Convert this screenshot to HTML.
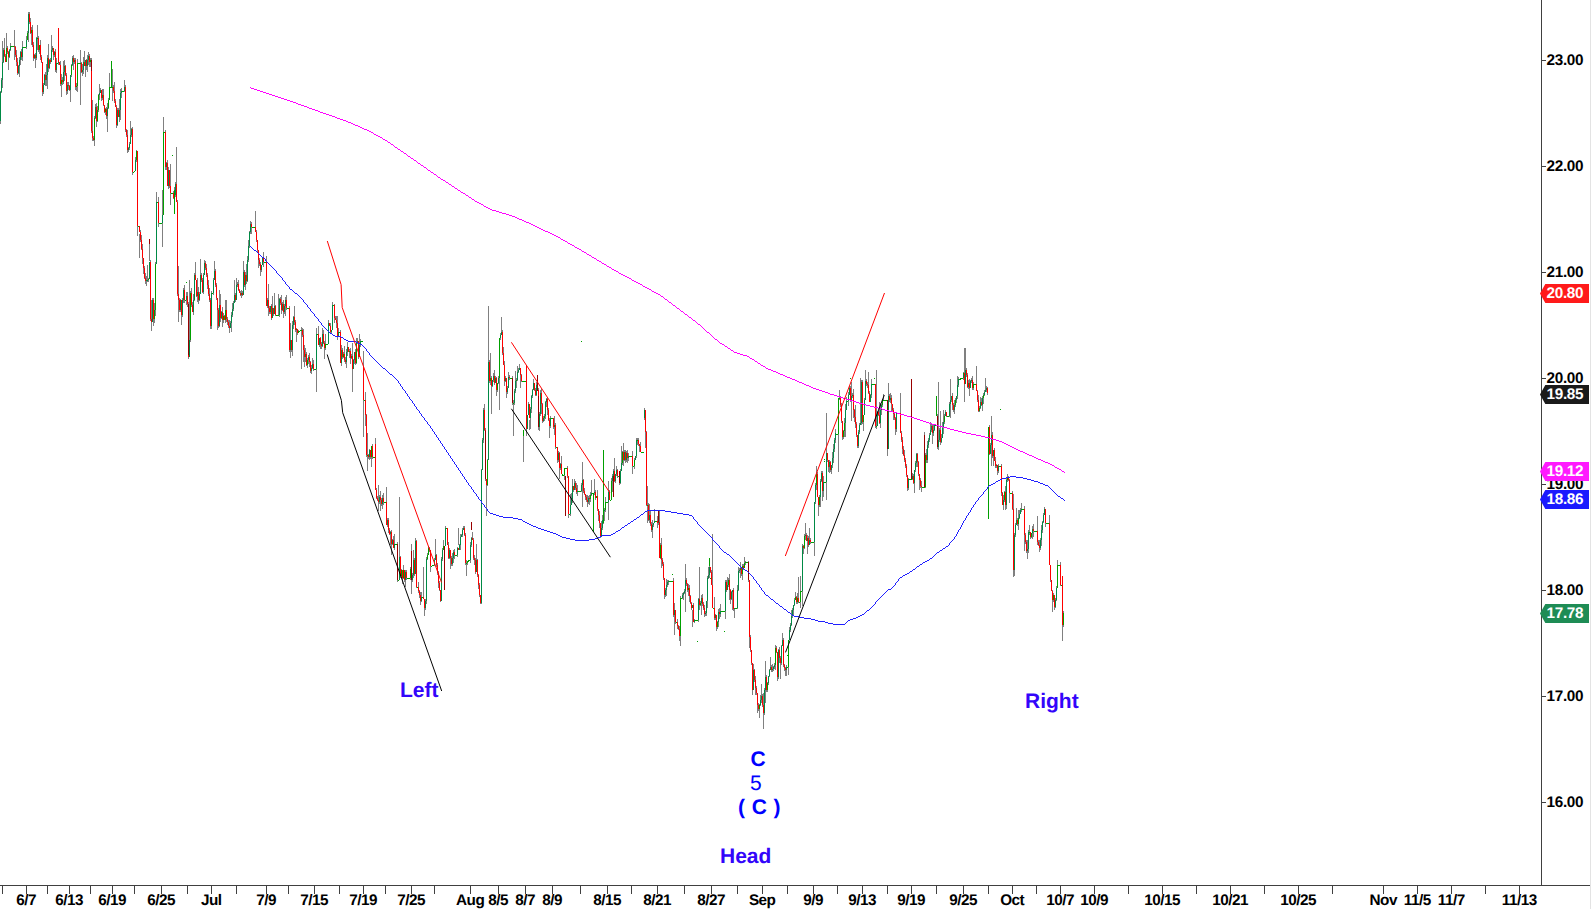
<!DOCTYPE html><html><head><meta charset="utf-8"><title>Chart</title><style>
html,body{margin:0;padding:0;background:#fff;}
body{width:1592px;height:909px;position:relative;overflow:hidden;font-family:"Liberation Sans",sans-serif;}
.t{position:absolute;white-space:nowrap;font-weight:bold;font-size:15.3px;line-height:16px;color:#000;letter-spacing:-0.3px;text-rendering:geometricPrecision;}
.xl{transform:translateX(-50%);top:892.5px;letter-spacing:-0.5px;}
.yl{left:1546.5px;}
.mk{left:1546.5px;color:#fff;}
.an{position:absolute;white-space:nowrap;font-weight:bold;font-size:21px;line-height:22px;color:#3305fa;text-rendering:geometricPrecision;}
.ew{color:#0000ff;}

</style></head><body>
<svg width="1592" height="909" viewBox="0 0 1592 909" style="position:absolute;left:0;top:0">
<g shape-rendering="crispEdges">
<path d="M0.5 91V124M1.5 78V93M2.5 62V80M2.5 41V88M3.5 48V63M4.5 38V57M5.5 54V62M6.5 48V62M6.5 33V55M7.5 46V54M8.5 51V70M9.5 49V58M10.5 43V51M14.5 46V47M14.5 30V60M15.5 46V57M16.5 50V66M17.5 58V75M18.5 65V74M19.5 57V77M20.5 51V65M21.5 49V60M22.5 41V61M26.5 36V49M27.5 31V40M28.5 14V33M28.5 12V42M29.5 12V24M30.5 18V34M31.5 27V45M32.5 25V47M33.5 42V61M34.5 54V59M35.5 53V68M36.5 37V60M37.5 25V50M38.5 36V52M39.5 45V54M40.5 40V60M41.5 55V63M42.5 62V92M42.5 70V96M43.5 83V94M44.5 74V85M45.5 72V86M46.5 64V86M47.5 55V89M48.5 44V72M49.5 59V69M50.5 58V64M51.5 50V62M51.5 35V62M52.5 46V52M53.5 48V60M54.5 51V57M55.5 49V72M56.5 58V73M58.5 60V65M59.5 62V65M60.5 61V86M61.5 74V97M62.5 77V85M63.5 61V84M64.5 60V81M65.5 65V76M66.5 73V95M67.5 82V94M68.5 82V90M69.5 85V91M70.5 75V90M70.5 75V102M71.5 64V77M72.5 56V66M73.5 58V62M73.5 55V70M74.5 58V64M75.5 58V90M76.5 83V91M77.5 59V92M80.5 50V105M81.5 62V73M82.5 64V76M83.5 57V74M84.5 51V66M85.5 60V77M86.5 59V70M87.5 55V72M88.5 52V65M89.5 54V67M90.5 58V67M91.5 58V133M92.5 131V138M92.5 100V141M93.5 136V141M94.5 116V146M95.5 104V119M96.5 103V127M97.5 106V122M98.5 94V112M99.5 93V95M99.5 84V100M100.5 88V93M101.5 90V101M102.5 89V100M103.5 89V106M104.5 105V113M105.5 108V115M106.5 107V119M107.5 103V132M108.5 98V109M109.5 87V100M109.5 73V90M112.5 69V101M113.5 85V93M114.5 82V103M115.5 99V107M116.5 107V125M116.5 105V128M117.5 108V126M118.5 108V117M119.5 99V122M120.5 89V120M121.5 88V98M124.5 87V91M124.5 80V92M125.5 85V132M126.5 129V137M127.5 135V150M127.5 130V153M128.5 147V152M129.5 142V150M130.5 135V144M130.5 121V140M131.5 128V137M132.5 127V175M135.5 157V171M136.5 150V162M137.5 151V226M137.5 189V236M139.5 226V232M139.5 234V258M140.5 230V242M141.5 235V250M142.5 244V264M143.5 258V274M144.5 266V279M145.5 273V284M146.5 276V286M147.5 265V282M148.5 278V282M149.5 262V279M149.5 244V261M150.5 260V321M151.5 319V322M151.5 300V331M152.5 298V322M153.5 298V326M154.5 303V323M155.5 262V316M156.5 202V264M156.5 192V210M158.5 197V227M162.5 215V223M162.5 190V247M163.5 132V215M163.5 117V135M165.5 130V170M166.5 162V170M167.5 160V186M168.5 167V189M169.5 170V188M170.5 164V205M173.5 191V199M174.5 187V199M175.5 182V197M176.5 184V202M176.5 147V190M177.5 200V296M178.5 294V300M178.5 266V322M179.5 298V312M180.5 299V312M181.5 300V315M181.5 300V325M182.5 298V317M183.5 288V303M184.5 285V303M186.5 292V305M187.5 292V307M188.5 302V359M189.5 340V357M189.5 280V340M190.5 291V342M191.5 288V307M192.5 302V312M193.5 294V315M194.5 273V301M195.5 275V280M195.5 262V280M196.5 280V297M197.5 278V302M198.5 287V304M199.5 292V301M200.5 275V294M200.5 259V280M201.5 273V282M202.5 278V293M203.5 273V294M204.5 263V275M204.5 260V270M205.5 261V270M206.5 264V277M207.5 273V289M208.5 280V296M209.5 288V302M210.5 298V329M211.5 291V329M213.5 278V295M214.5 271V280M214.5 261V275M215.5 269V287M216.5 283V300M217.5 298V310M217.5 300V330M218.5 308V328M219.5 290V327M220.5 294V322M221.5 311V319M222.5 307V327M223.5 313V323M224.5 315V320M225.5 300V323M226.5 300V322M227.5 317V325M228.5 320V328M229.5 326V328M229.5 320V333M230.5 321V328M231.5 312V332M232.5 303V317M233.5 301V311M234.5 295V303M234.5 280V300M235.5 293V302M236.5 285V300M236.5 278V290M237.5 282V287M238.5 280V291M239.5 289V293M240.5 291V296M241.5 290V298M242.5 291V296M243.5 272V295M243.5 261V275M244.5 270V287M245.5 272V290M246.5 264V284M247.5 256V282M248.5 240V262M249.5 231V248M250.5 221V234M251.5 222V234M255.5 227V232M255.5 211V230M256.5 230V242M257.5 240V252M258.5 250V268M259.5 258V266M260.5 264V270M260.5 262V276M261.5 265V272M262.5 257V265M263.5 252V267M266.5 262V306M266.5 256V265M267.5 298V308M268.5 300V308M268.5 284V316M269.5 306V314M270.5 306V314M271.5 304V320M272.5 308V318M272.5 296V310M273.5 308V316M274.5 306V314M274.5 293V310M275.5 305V316M278.5 294V315M279.5 298V317M280.5 297V305M281.5 295V314M282.5 302V311M283.5 304V312M283.5 300V318M284.5 304V314M285.5 297V316M286.5 295V310M289.5 306V352M290.5 340V350M290.5 323V358M291.5 340V352M292.5 321V356M293.5 316V329M294.5 306V325M295.5 320V332M296.5 329V330M296.5 328V342M297.5 329V335M298.5 330V333M301.5 327V369M302.5 328V337M303.5 329V362M304.5 345V367M305.5 348V362M306.5 352V366M307.5 358V368M308.5 355V364M309.5 353V367M310.5 361V373M311.5 365V374M312.5 358V369M313.5 360V371M316.5 334V369M316.5 328V392M318.5 334V345M318.5 326V340M319.5 338V347M320.5 337V349M321.5 342V349M322.5 328V347M323.5 330V344M324.5 341V359M325.5 334V350M328.5 323V344M328.5 320V330M329.5 323V326M330.5 323V333M331.5 330V334M332.5 305V330M332.5 302V310M334.5 304V323M335.5 316V320M336.5 316V328M337.5 316V340M338.5 328V337M340.5 330V363M341.5 345V366M342.5 348V359M343.5 352V358M344.5 346V362M345.5 357V364M346.5 349V368M347.5 342V356M348.5 347V352M349.5 349V358M350.5 348V364M351.5 354V359M352.5 356V369M352.5 343V392M353.5 359V369M354.5 352V364M355.5 349V365M356.5 338V364M357.5 338V344M358.5 341V359M359.5 345V357M359.5 334V346M360.5 339V347M363.5 366V400M363.5 351V437M365.5 400V415M365.5 392V426M366.5 414V457M367.5 433V471M368.5 454V459M369.5 449V460M370.5 450V459M371.5 446V457M371.5 446V467M372.5 444V459M375.5 444V490M375.5 438V450M376.5 488V499M377.5 496V501M378.5 500V502M378.5 485V511M379.5 495V504M380.5 497V500M380.5 491V511M381.5 498V506M382.5 495V509M383.5 493V505M386.5 498V525M386.5 487V500M387.5 518V527M388.5 518V533M389.5 528V535M390.5 531V545M391.5 530V555M392.5 539V545M393.5 536V548M394.5 534V550M397.5 542V582M399.5 557V580M399.5 497V560M400.5 556V578M401.5 569V578M402.5 570V584M403.5 565V579M404.5 570V582M405.5 572V580M405.5 570V587M406.5 570V580M410.5 567V580M411.5 569V580M411.5 544V594M412.5 573V582M413.5 550V578M414.5 558V576M415.5 541V574M415.5 538V545M416.5 540V588M418.5 582V593M419.5 590V598M420.5 592V605M421.5 592V602M423.5 584V599M423.5 567V590M424.5 599V608M424.5 600V616M425.5 599V610M426.5 557V604M427.5 553V560M428.5 548V555M428.5 546V550M429.5 547V552M430.5 550V566M430.5 560V572M434.5 558V566M435.5 555V560M435.5 539V560M436.5 554V567M437.5 563V575M438.5 571V588M439.5 581V591M440.5 590V601M440.5 590V602M441.5 557V601M442.5 548V561M443.5 546V550M443.5 540V550M445.5 528V546M445.5 526V530M447.5 528V545M448.5 542V559M449.5 548V559M450.5 550V558M450.5 555V569M451.5 556V566M452.5 553V566M453.5 550V563M454.5 549V559M457.5 547V557M458.5 548V550M458.5 528V545M459.5 544V550M460.5 534V550M461.5 534V537M462.5 528V537M463.5 528V530M463.5 526V530M464.5 526V536M465.5 533V565M466.5 560V576M467.5 561V565M470.5 542V563M471.5 537V547M472.5 538V540M472.5 532V540M473.5 538V560M474.5 555V565M475.5 558V574M476.5 560V572M476.5 544V560M477.5 559V577M478.5 574V589M479.5 583V597M480.5 595V603M480.5 600V604M481.5 469V604M482.5 438V470M483.5 408V443M484.5 404V431M485.5 428V481M486.5 479V485M486.5 480V516M487.5 459V486M488.5 362V460M488.5 306V362M489.5 360V383M490.5 378V381M490.5 353V385M491.5 378V386M491.5 376V414M492.5 380V387M493.5 373V382M494.5 370V385M495.5 376V383M496.5 377V396M497.5 383V392M498.5 376V384M499.5 338V379M499.5 379V410M500.5 333V340M501.5 332V335M501.5 317V335M502.5 330V355M503.5 347V365M504.5 361V386M505.5 376V382M506.5 378V392M506.5 380V398M507.5 386V394M508.5 377V388M508.5 372V380M509.5 375V380M512.5 376V405M513.5 400V436M514.5 389V405M515.5 371V393M516.5 378V388M517.5 366V381M518.5 368V373M519.5 368V370M519.5 364V370M520.5 368V375M520.5 375V388M521.5 374V382M523.5 436V462M526.5 381V429M526.5 420V436M527.5 415V429M528.5 402V415M529.5 404V418M529.5 420V430M530.5 407V429M531.5 395V413M532.5 389V398M533.5 383V390M533.5 379V385M534.5 383V391M535.5 388V396M536.5 382V396M537.5 382V390M538.5 388V430M539.5 412V431M540.5 390V416M541.5 389V414M542.5 403V423M543.5 416V422M544.5 414V421M545.5 401V419M546.5 398V407M547.5 397V415M548.5 408V421M549.5 418V438M550.5 416V428M553.5 418V429M554.5 425V427M554.5 416V435M555.5 423V449M557.5 447V460M557.5 450V463M558.5 451V462M559.5 452V479M560.5 463V470M561.5 464V474M561.5 456V470M564.5 468V480M567.5 466V478M568.5 476V514M568.5 500V518M570.5 494V516M571.5 493V505M572.5 479V503M573.5 486V492M574.5 483V490M574.5 479V490M575.5 481V490M576.5 483V494M577.5 485V496M581.5 483V492M582.5 480V485M582.5 462V507M583.5 479V493M584.5 488V495M585.5 494V500M586.5 495V502M587.5 500V502M587.5 495V507M588.5 496V504M589.5 495V505M590.5 492V502M591.5 480V496M594.5 492V493M594.5 479V495M595.5 490V500M596.5 496V498M597.5 490V511M598.5 509V521M599.5 511V528M600.5 523V538M601.5 521V537M602.5 515V530M603.5 510V524M604.5 508V521M605.5 497V512M608.5 492V502M608.5 481V520M609.5 490V500M611.5 478V500M612.5 474V492M613.5 469V478M614.5 458V482M615.5 474V483M616.5 470V474M616.5 466V476M617.5 469V478M619.5 476V483M619.5 480V485M620.5 469V484M621.5 463V471M621.5 446V465M622.5 451V465M623.5 443V466M624.5 450V461M625.5 452V460M625.5 450V463M626.5 451V462M627.5 450V463M628.5 453V461M632.5 452V466M632.5 451V474M634.5 458V469M635.5 456V460M636.5 438V458M637.5 438V445M638.5 438V446M639.5 444V452M640.5 442V452M644.5 408V420M645.5 410V432M645.5 431V448M646.5 431V506M647.5 486V523M648.5 503V521M649.5 504V523M650.5 510V526M651.5 522V532M652.5 525V530M652.5 520V538M653.5 523V527M654.5 509V523M657.5 516V528M658.5 520V525M659.5 522V558M659.5 510V536M660.5 543V559M661.5 545V560M661.5 538V568M662.5 558V566M663.5 562V580M664.5 578V595M664.5 580V599M665.5 588V597M666.5 579V596M667.5 580V587M668.5 580V585M673.5 578V617M674.5 610V615M674.5 603V635M675.5 610V624M677.5 619V629M678.5 625V630M679.5 626V641M680.5 596V646M682.5 593V599M683.5 592V600M684.5 589V594M685.5 580V591M685.5 564V612M686.5 578V586M687.5 583V592M688.5 584V596M689.5 585V602M690.5 595V604M691.5 602V610M692.5 605V608M692.5 610V627M693.5 603V622M694.5 619V623M698.5 598V622M699.5 599V605M699.5 567V610M700.5 601V606M701.5 595V615M702.5 594V606M703.5 602V610M704.5 608V614M704.5 605V617M705.5 611V616M706.5 601V616M707.5 576V608M708.5 567V579M709.5 565V578M710.5 567V573M711.5 570V585M712.5 577V608M712.5 534V580M714.5 597V620M715.5 614V620M716.5 615V627M716.5 620V631M717.5 621V629M718.5 609V627M719.5 608V619M720.5 604V617M725.5 580V619M726.5 580V592M727.5 585V590M727.5 577V590M728.5 578V587M729.5 574V600M730.5 589V604M731.5 591V600M732.5 590V592M732.5 590V610M733.5 588V611M734.5 608V618M737.5 585V609M738.5 567V591M739.5 568V573M740.5 568V570M740.5 562V578M741.5 568V576M742.5 564V580M743.5 564V570M744.5 563V568M744.5 557V565M745.5 561V565M748.5 561V582M749.5 580V637M749.5 630V648M750.5 635V652M751.5 650V665M752.5 663V690M752.5 680V695M753.5 670V690M753.5 664V680M754.5 669V682M755.5 676V695M756.5 686V695M757.5 693V705M757.5 700V713M758.5 703V711M759.5 704V718M760.5 695V706M761.5 684V703M762.5 694V707M763.5 697V713M763.5 693V729M764.5 688V715M765.5 677V690M765.5 661V703M766.5 675V692M767.5 682V692M768.5 676V685M769.5 669V677M770.5 667V670M770.5 657V670M771.5 665V672M772.5 664V672M773.5 666V671M774.5 663V669M775.5 648V670M775.5 645V670M776.5 646V653M777.5 652V677M777.5 668V681M778.5 649V679M779.5 647V663M780.5 656V679M781.5 645V665M782.5 640V646M782.5 633V645M783.5 638V667M784.5 664V671M785.5 667V676M786.5 665V676M788.5 640V667M788.5 640V675M789.5 630V640M789.5 627V635M790.5 623V632M791.5 610V626M792.5 608V618M793.5 605V616M794.5 598V606M795.5 597V600M795.5 592V600M796.5 596V604M797.5 593V604M798.5 577V603M800.5 576V608M802.5 544V606M803.5 545V554M804.5 534V549M805.5 535V536M805.5 523V540M806.5 533V541M807.5 538V541M807.5 535V554M808.5 536V547M809.5 540V545M809.5 528V545M810.5 538V544M814.5 502V556M814.5 502V556M815.5 483V504M816.5 474V485M816.5 466V490M817.5 472V497M818.5 497V505M818.5 497V516M819.5 495V507M820.5 479V507M821.5 471V482M822.5 471V501M823.5 476V497M826.5 453V484M826.5 413V500M827.5 453V462M828.5 460V472M829.5 460V473M830.5 461V472M831.5 465V474M832.5 452V468M833.5 444V463M834.5 438V452M835.5 429V443M838.5 398V447M838.5 406V472M839.5 390V400M840.5 396V407M841.5 403V423M842.5 421V437M842.5 430V440M843.5 430V439M844.5 418V437M845.5 404V437M846.5 397V410M848.5 392V406M849.5 386V395M850.5 386V402M851.5 396V401M851.5 382V421M852.5 393V398M853.5 389V418M854.5 409V422M855.5 405V428M856.5 422V437M857.5 435V446M857.5 440V448M858.5 430V448M859.5 423V434M860.5 423V425M860.5 378V425M861.5 380V425M862.5 380V424M863.5 415V422M863.5 415V431M864.5 398V415M865.5 381V400M865.5 370V385M866.5 379V386M867.5 382V388M868.5 372V394M869.5 391V402M870.5 394V402M871.5 379V398M875.5 384V428M876.5 370V429M877.5 411V426M878.5 411V416M879.5 402V424M880.5 403V428M881.5 404V415M882.5 399V407M883.5 394V400M887.5 400V449M887.5 440V456M888.5 396V449M888.5 383V400M889.5 394V402M890.5 393V403M891.5 395V412M892.5 404V412M893.5 408V420M894.5 412V420M895.5 417V435M896.5 413V432M900.5 413V433M900.5 393V413M901.5 431V442M902.5 437V454M903.5 446V456M904.5 450V462M905.5 458V468M906.5 464V477M907.5 475V488M907.5 480V491M908.5 478V490M912.5 473V480M913.5 474V484M914.5 470V483M914.5 480V493M915.5 461V472M916.5 453V467M917.5 453V467M918.5 461V476M919.5 474V480M919.5 475V490M920.5 478V488M921.5 481V492M924.5 432V440M925.5 453V488M926.5 449V463M927.5 441V463M928.5 438V448M929.5 433V442M930.5 430V435M930.5 422V430M931.5 424V432M932.5 425V444M933.5 425V436M934.5 425V431M937.5 414V449M938.5 440V447M938.5 382V450M939.5 428V442M940.5 411V445M941.5 434V443M942.5 422V438M943.5 410V434M944.5 414V424M945.5 412V416M945.5 410V416M946.5 412V417M949.5 402V417M950.5 400V404M950.5 379V418M951.5 396V402M952.5 393V410M953.5 403V412M954.5 405V410M954.5 400V414M955.5 398V407M956.5 396V403M957.5 376V399M958.5 377V387M963.5 372V380M964.5 367V384M964.5 348V402M965.5 370V384M965.5 348V375M966.5 368V377M967.5 373V388M968.5 380V389M969.5 379V396M970.5 380V388M971.5 378V383M972.5 380V388M972.5 376V390M973.5 382V390M976.5 375V391M976.5 366V380M977.5 390V402M978.5 395V411M978.5 400V412M979.5 406V412M980.5 397V409M981.5 398V406M982.5 396V411M983.5 393V404M984.5 390V396M985.5 390V392M985.5 378V392M986.5 386V392M987.5 387V395M989.5 425V455M990.5 443V454M991.5 435V445M991.5 416V466M992.5 432V458M993.5 450V456M993.5 450V466M994.5 448V461M995.5 457V468M996.5 464V468M997.5 465V471M997.5 465V475M998.5 464V473M1001.5 464V496M1002.5 492V505M1003.5 500V505M1003.5 495V510M1004.5 491V502M1005.5 486V510M1006.5 478V509M1007.5 478V480M1007.5 474V482M1008.5 476V481M1009.5 479V503M1012.5 491V510M1013.5 509V570M1013.5 494V577M1014.5 533V576M1015.5 523V537M1016.5 520V525M1016.5 508V525M1017.5 518V526M1018.5 510V530M1019.5 510V519M1020.5 508V514M1021.5 509V510M1021.5 503V512M1024.5 509V535M1024.5 506V551M1025.5 533V544M1026.5 540V553M1027.5 549V551M1027.5 540V559M1028.5 530V553M1029.5 525V535M1030.5 532V539M1031.5 533V538M1032.5 526V539M1033.5 524V537M1037.5 525V542M1037.5 516V545M1038.5 540V546M1039.5 545V548M1039.5 540V552M1040.5 538V550M1041.5 525V546M1042.5 521V533M1043.5 513V523M1044.5 509V515M1044.5 507V512M1045.5 509V523M1045.5 509V527M1049.5 523V565M1049.5 515V530M1050.5 565V582M1051.5 580V591M1052.5 591V600M1052.5 590V612M1053.5 593V602M1054.5 595V607M1054.5 600V610M1055.5 598V608M1056.5 586V601M1057.5 560V588M1060.5 562V586M1062.5 576V625M1062.5 576V641M1063.5 611V627" stroke="#808080" stroke-width="1" fill="none"/>
<path d="M4.5 50V56M5.5 56V62M7.5 48V52M8.5 52V57M14.5 46V47M15.5 47V55M16.5 55V62M17.5 62V73M21.5 52V57M29.5 14V22M30.5 22V33M32.5 30V45M33.5 45V58M35.5 55V58M38.5 38V50M40.5 45V57M41.5 57V62M42.5 62V92M45.5 75V80M48.5 58V68M50.5 60V62M53.5 48V55M55.5 52V70M59.5 62V65M60.5 65V84M62.5 80V82M65.5 66V75M66.5 75V91M68.5 85V86M69.5 86V90M73.5 58V62M75.5 60V87M81.5 63V72M84.5 62V66M86.5 60V66M89.5 56V62M91.5 60V131M92.5 131V138M93.5 138V140M96.5 107V121M101.5 90V98M103.5 95V105M104.5 105V112M106.5 109V116M113.5 87V91M114.5 91V101M115.5 101V107M116.5 107V125M118.5 110V117M125.5 87V130M126.5 130V135M127.5 135V150M132.5 129V172M137.5 151V226M139.5 226V232M140.5 232V240M141.5 240V249M142.5 249V258M143.5 258V268M144.5 268V278M145.5 278V281M150.5 262V319M151.5 319V322M153.5 300V319M158.5 202V223M165.5 132V167M167.5 163V186M169.5 170V186M170.5 186V193M173.5 193V198M176.5 184V202M177.5 202V294M178.5 294V300M179.5 300V310M181.5 300V315M184.5 290V300M187.5 296V304M188.5 304V357M191.5 293V305M192.5 305V312M195.5 275V280M196.5 280V296M198.5 292V300M201.5 275V280M202.5 280V292M205.5 263V268M206.5 268V275M207.5 275V285M208.5 285V294M209.5 294V300M210.5 300V326M215.5 271V285M216.5 285V298M217.5 298V310M218.5 310V326M220.5 305V318M222.5 312V320M224.5 316V320M226.5 310V319M227.5 319V322M228.5 322V326M229.5 326V328M235.5 295V300M238.5 284V290M239.5 290V293M240.5 293V295M242.5 293V295M244.5 272V285M246.5 275V281M251.5 224V227M255.5 227V232M256.5 232V240M257.5 240V250M258.5 250V260M259.5 260V264M260.5 264V270M263.5 258V262M266.5 262V306M268.5 300V308M269.5 308V312M271.5 306V318M273.5 308V314M275.5 306V315M280.5 299V303M281.5 303V310M283.5 304V312M286.5 300V308M289.5 308V350M291.5 340V350M294.5 317V322M295.5 322V330M297.5 329V333M302.5 330V335M303.5 335V350M304.5 350V357M306.5 354V365M309.5 357V362M310.5 362V371M313.5 364V369M318.5 334V345M320.5 338V344M321.5 344V346M323.5 334V343M324.5 343V348M329.5 323V326M330.5 326V332M334.5 305V318M335.5 318V320M336.5 320V323M337.5 323V336M340.5 332V363M342.5 350V357M344.5 354V360M345.5 360V362M348.5 347V352M350.5 351V358M352.5 356V369M355.5 352V363M358.5 341V357M363.5 366V400M365.5 400V415M366.5 415V455M368.5 455V457M370.5 450V457M372.5 446V457M375.5 444V490M376.5 490V498M377.5 498V500M378.5 500V502M380.5 497V500M381.5 500V504M383.5 498V502M386.5 502V525M388.5 520V530M389.5 530V534M391.5 532V544M393.5 540V548M397.5 544V580M400.5 557V576M402.5 570V578M404.5 570V580M406.5 572V578M411.5 569V580M414.5 560V574M416.5 541V587M418.5 587V591M419.5 591V595M420.5 595V601M423.5 597V599M424.5 599V608M429.5 548V550M430.5 550V566M436.5 555V565M437.5 565V573M438.5 573V583M439.5 583V590M440.5 590V601M447.5 528V545M448.5 545V558M450.5 550V558M451.5 558V564M454.5 552V555M458.5 548V550M464.5 528V535M465.5 535V563M472.5 538V540M473.5 540V558M474.5 558V560M475.5 560V572M477.5 560V575M478.5 575V585M479.5 585V595M480.5 595V603M484.5 410V430M485.5 430V479M486.5 479V485M489.5 362V381M491.5 378V386M494.5 376V383M496.5 378V390M502.5 332V353M503.5 353V365M504.5 365V381M506.5 378V392M509.5 377V378M512.5 378V403M520.5 368V375M521.5 375V381M526.5 381V429M529.5 404V418M534.5 383V390M535.5 390V395M537.5 385V390M538.5 390V427M541.5 393V404M542.5 404V421M547.5 399V410M548.5 410V420M549.5 420V426M553.5 418V427M555.5 425V447M557.5 447V460M559.5 453V468M561.5 464V474M567.5 468V476M568.5 476V514M573.5 486V490M575.5 483V488M576.5 488V492M583.5 480V491M584.5 491V494M585.5 494V497M586.5 497V500M587.5 500V502M589.5 498V499M595.5 492V498M597.5 496V509M598.5 509V515M599.5 515V523M600.5 523V536M609.5 492V500M614.5 471V481M617.5 470V476M619.5 476V483M623.5 452V460M625.5 452V460M627.5 453V458M632.5 456V466M638.5 440V444M639.5 444V446M640.5 446V452M645.5 410V432M646.5 432V505M648.5 505V520M650.5 515V524M651.5 524V530M657.5 521V523M659.5 522V558M661.5 545V560M662.5 560V564M663.5 564V578M664.5 578V595M673.5 581V615M675.5 610V622M677.5 622V626M678.5 626V629M679.5 629V636M686.5 580V584M687.5 584V590M689.5 588V596M690.5 596V603M691.5 603V608M693.5 605V622M699.5 599V605M702.5 598V604M703.5 604V608M704.5 608V614M710.5 567V572M711.5 572V585M712.5 585V608M714.5 608V618M716.5 615V627M719.5 612V614M726.5 582V590M729.5 580V590M730.5 590V599M733.5 590V609M741.5 568V574M743.5 566V568M748.5 562V580M749.5 580V637M750.5 637V650M751.5 650V663M752.5 663V690M754.5 670V680M755.5 680V688M756.5 688V693M757.5 693V705M758.5 705V709M762.5 696V705M763.5 705V713M766.5 677V690M771.5 667V670M776.5 648V652M777.5 652V677M779.5 650V658M780.5 658V663M783.5 640V665M784.5 665V668M785.5 668V670M796.5 597V602M798.5 598V602M803.5 546V548M806.5 535V541M808.5 538V545M810.5 540V542M817.5 474V497M818.5 497V505M822.5 473V491M827.5 453V460M828.5 460V467M830.5 462V470M840.5 398V405M841.5 405V421M842.5 421V437M850.5 388V401M853.5 395V410M854.5 410V417M855.5 417V424M856.5 424V435M857.5 435V446M862.5 382V422M866.5 381V384M867.5 384V385M868.5 385V393M869.5 393V402M875.5 384V426M878.5 412V415M879.5 415V423M887.5 400V449M889.5 396V400M891.5 398V404M892.5 404V410M893.5 410V414M894.5 414V418M895.5 418V429M900.5 413V433M901.5 433V440M902.5 440V449M903.5 449V455M904.5 455V460M905.5 460V466M906.5 466V475M907.5 475V488M913.5 476V483M917.5 454V462M918.5 462V474M919.5 474V480M920.5 480V486M921.5 486V487M926.5 455V460M932.5 426V433M937.5 425V447M940.5 430V442M946.5 412V416M952.5 396V405M953.5 405V410M964.5 373V384M966.5 370V375M967.5 375V387M969.5 383V388M972.5 380V388M976.5 384V391M977.5 391V400M978.5 400V411M981.5 402V405M987.5 388V393M989.5 427V454M992.5 435V456M994.5 450V461M995.5 461V466M997.5 465V471M1001.5 466V493M1002.5 493V505M1005.5 492V505M1008.5 478V480M1009.5 480V493M1012.5 493V509M1013.5 509V570M1017.5 520V524M1024.5 509V535M1025.5 535V542M1026.5 542V551M1030.5 532V537M1033.5 529V531M1037.5 531V542M1038.5 542V545M1039.5 545V548M1045.5 509V523M1049.5 523V565M1050.5 565V580M1051.5 580V591M1052.5 591V600M1054.5 595V607M1060.5 565V585M1062.5 576V625M58.5 28V62M526.5 365V429" stroke="#ff0000" stroke-width="1" fill="none"/>
<path d="M0.5 92V121M1.5 80V92M2.5 62V80M3.5 50V62M9.5 50V57M10.5 46V50M18.5 66V73M19.5 60V66M20.5 52V60M22.5 47V57M26.5 40V47M28.5 14V33M34.5 55V58M36.5 38V58M43.5 85V92M44.5 75V85M46.5 75V80M47.5 58V75M49.5 60V68M51.5 50V62M52.5 48V50M54.5 52V55M56.5 63V70M58.5 62V63M63.5 72V82M64.5 66V72M67.5 85V91M70.5 75V90M72.5 58V65M74.5 60V62M82.5 70V72M83.5 62V70M85.5 60V66M87.5 60V66M88.5 56V60M95.5 107V118M99.5 93V95M100.5 90V93M102.5 95V98M107.5 108V116M117.5 110V125M119.5 110V117M120.5 93V110M121.5 91V93M124.5 87V91M128.5 148V150M129.5 144V148M130.5 135V144M131.5 129V135M135.5 160V171M146.5 280V281M147.5 280V281M149.5 262V279M152.5 300V322M156.5 202V264M162.5 215V223M166.5 163V167M168.5 170V186M175.5 184V195M180.5 300V310M182.5 300V315M183.5 290V300M186.5 296V300M189.5 340V357M193.5 300V312M194.5 275V300M197.5 292V296M199.5 294V300M200.5 275V294M203.5 275V292M204.5 263V275M211.5 293V326M213.5 280V293M214.5 271V280M219.5 305V326M221.5 312V318M230.5 323V328M231.5 315V323M232.5 309V315M233.5 303V309M234.5 295V303M236.5 285V300M237.5 284V285M241.5 293V295M243.5 272V295M245.5 275V285M247.5 260V281M248.5 246V260M249.5 232V246M250.5 224V232M261.5 265V270M262.5 258V265M267.5 300V306M270.5 306V312M272.5 308V318M274.5 306V314M279.5 299V315M282.5 304V310M284.5 306V312M285.5 300V306M290.5 340V350M292.5 325V350M293.5 317V325M296.5 329V330M305.5 354V357M308.5 357V360M311.5 368V371M312.5 364V368M316.5 334V369M319.5 338V345M322.5 334V346M328.5 323V344M331.5 330V332M332.5 305V330M338.5 332V336M341.5 350V363M346.5 352V362M347.5 347V352M351.5 356V358M353.5 360V369M354.5 352V360M357.5 341V343M359.5 345V357M360.5 341V345M369.5 450V457M379.5 497V502M382.5 498V504M387.5 520V525M390.5 532V534M392.5 540V544M394.5 544V548M399.5 557V580M405.5 572V580M412.5 575V580M413.5 560V575M415.5 541V574M421.5 597V601M425.5 601V608M426.5 559V601M434.5 560V565M435.5 555V560M441.5 559V601M442.5 550V559M445.5 528V546M449.5 550V558M452.5 558V564M453.5 552V558M457.5 548V555M459.5 545V550M460.5 537V545M461.5 535V537M462.5 530V535M463.5 528V530M470.5 545V560M471.5 538V545M476.5 560V572M481.5 470V603M482.5 440V470M483.5 410V440M488.5 362V460M492.5 380V386M493.5 376V380M495.5 378V383M498.5 378V383M500.5 335V338M501.5 332V335M505.5 378V381M507.5 388V392M508.5 377V388M514.5 391V403M515.5 381V391M517.5 372V380M518.5 370V372M519.5 368V370M527.5 415V429M528.5 404V415M530.5 409V418M531.5 396V409M532.5 390V396M533.5 383V390M536.5 385V395M539.5 414V427M540.5 393V414M543.5 418V421M545.5 402V416M546.5 399V402M550.5 418V426M554.5 425V427M558.5 453V460M560.5 464V468M570.5 505V514M571.5 499V505M572.5 486V499M574.5 483V490M577.5 491V492M581.5 485V491M582.5 480V485M588.5 498V502M591.5 493V495M594.5 492V493M601.5 528V536M602.5 520V528M603.5 511V520M604.5 510V511M608.5 492V502M612.5 476V481M613.5 471V476M615.5 474V481M616.5 470V474M620.5 471V483M621.5 463V471M624.5 452V460M626.5 453V460M628.5 456V458M635.5 456V460M636.5 440V456M644.5 410V418M649.5 515V520M652.5 525V530M653.5 523V525M654.5 521V523M658.5 522V523M665.5 590V595M666.5 585V590M667.5 582V585M668.5 581V582M674.5 610V615M682.5 595V598M683.5 593V595M684.5 591V593M685.5 580V591M692.5 605V608M694.5 620V622M698.5 599V620M701.5 598V603M705.5 613V614M706.5 601V613M707.5 578V601M708.5 575V578M709.5 567V575M715.5 615V618M718.5 612V622M720.5 611V614M725.5 582V611M727.5 585V590M731.5 592V599M732.5 590V592M734.5 608V609M737.5 590V608M738.5 571V590M739.5 570V571M740.5 568V570M753.5 670V690M760.5 700V705M761.5 696V700M764.5 690V713M765.5 677V690M768.5 676V683M769.5 670V676M770.5 667V670M772.5 669V670M773.5 667V669M774.5 665V667M778.5 650V677M781.5 646V663M782.5 640V646M786.5 667V670M789.5 630V640M790.5 625V630M791.5 616V625M792.5 610V616M793.5 605V610M794.5 600V605M802.5 546V591M805.5 535V536M807.5 538V541M809.5 540V545M814.5 502V542M815.5 485V502M820.5 481V497M821.5 473V481M823.5 482V491M826.5 453V482M829.5 462V467M831.5 465V470M832.5 458V465M833.5 449V458M834.5 440V449M835.5 433V440M845.5 410V423M846.5 401V410M848.5 395V401M849.5 388V395M851.5 396V401M852.5 395V396M858.5 432V446M859.5 425V432M860.5 423V425M861.5 382V423M864.5 400V415M865.5 381V400M870.5 395V402M871.5 384V395M877.5 412V426M880.5 410V423M881.5 405V410M888.5 396V449M890.5 398V400M896.5 413V429M908.5 479V488M912.5 476V479M914.5 470V483M915.5 463V470M916.5 454V463M927.5 445V460M928.5 440V445M929.5 435V440M930.5 430V435M931.5 426V430M933.5 430V433M934.5 425V430M938.5 440V447M939.5 430V440M941.5 438V442M942.5 428V438M943.5 422V428M945.5 412V416M949.5 404V416M950.5 400V404M951.5 396V400M954.5 405V410M956.5 396V400M957.5 385V396M958.5 379V385M963.5 373V378M965.5 370V384M968.5 383V387M970.5 381V388M971.5 380V381M980.5 402V408M982.5 398V405M984.5 392V395M985.5 390V392M986.5 388V390M990.5 445V454M991.5 435V445M993.5 450V456M996.5 465V466M998.5 466V471M1003.5 500V505M1006.5 480V505M1014.5 535V570M1015.5 525V535M1016.5 520V525M1019.5 514V518M1020.5 510V514M1021.5 509V510M1027.5 549V551M1028.5 532V549M1032.5 529V533M1040.5 540V548M1041.5 530V540M1042.5 522V530M1043.5 515V522M1044.5 509V515M1055.5 600V607M1056.5 588V600" stroke="#008a45" stroke-width="1" fill="none"/>
<path d="M6.5 48V62M11.5 46V47M12.5 46V47M13.5 46V47M23.5 47V48M24.5 47V48M25.5 47V48M27.5 33V40M31.5 30V33M37.5 38V39M39.5 45V50M57.5 63V64M61.5 80V84M71.5 65V75M76.5 86V87M77.5 63V86M78.5 63V64M79.5 63V64M80.5 63V64M90.5 60V62M94.5 118V140M97.5 110V121M98.5 95V110M105.5 109V112M108.5 100V108M109.5 87V100M110.5 87V88M111.5 87V88M112.5 87V88M122.5 91V92M123.5 91V92M133.5 172V173M134.5 171V172M136.5 151V160M138.5 226V227M148.5 279V280M154.5 310V319M155.5 264V310M157.5 202V203M159.5 223V224M160.5 223V224M161.5 223V224M163.5 132V215M164.5 132V133M171.5 193V194M172.5 193V194M174.5 195V198M185.5 300V301M190.5 293V340M212.5 293V294M223.5 316V320M225.5 310V320M252.5 227V228M253.5 227V228M254.5 227V228M264.5 262V263M265.5 262V263M276.5 315V316M277.5 315V316M278.5 315V316M287.5 308V309M288.5 308V309M298.5 331V333M299.5 331V332M300.5 330V331M301.5 330V331M307.5 360V365M314.5 369V370M315.5 369V370M317.5 334V335M325.5 344V348M326.5 344V345M327.5 344V345M333.5 305V306M339.5 332V333M343.5 354V357M349.5 351V352M356.5 343V363M361.5 341V342M362.5 341V342M364.5 400V401M367.5 455V456M371.5 446V457M373.5 457V458M374.5 457V458M384.5 502V503M385.5 502V503M395.5 544V545M396.5 544V545M398.5 580V581M401.5 570V576M403.5 570V578M407.5 578V579M408.5 578V579M409.5 578V579M410.5 569V578M417.5 587V588M422.5 597V598M427.5 555V559M428.5 548V555M431.5 566V567M432.5 565V566M433.5 565V566M443.5 546V550M444.5 546V547M446.5 528V529M455.5 555V556M456.5 555V556M466.5 563V564M467.5 561V563M468.5 560V562M469.5 560V561M487.5 460V485M490.5 378V381M497.5 383V390M499.5 338V378M510.5 378V379M511.5 378V379M513.5 403V404M516.5 380V381M522.5 381V382M523.5 381V382M524.5 381V382M525.5 381V382M544.5 416V418M551.5 418V419M552.5 418V419M556.5 447V448M562.5 474V476M563.5 475V476M564.5 468V475M565.5 468V469M566.5 468V469M569.5 514V515M578.5 491V492M579.5 491V492M580.5 491V492M590.5 495V499M592.5 493V494M593.5 493V494M596.5 496V498M605.5 502V510M606.5 502V503M607.5 502V503M610.5 500V501M611.5 481V500M618.5 476V477M622.5 452V463M629.5 456V457M630.5 456V457M631.5 456V457M633.5 466V467M634.5 460V466M637.5 440V441M641.5 452V453M642.5 452V453M643.5 452V453M647.5 505V506M655.5 521V522M656.5 521V522M660.5 545V558M669.5 581V582M670.5 581V582M671.5 581V582M672.5 581V582M676.5 622V623M680.5 598V636M681.5 598V599M688.5 588V590M695.5 620V621M696.5 620V621M697.5 620V621M700.5 603V605M713.5 608V609M717.5 622V627M721.5 611V612M722.5 611V612M723.5 611V612M724.5 611V612M728.5 580V585M735.5 608V609M736.5 608V609M742.5 566V574M744.5 563V568M745.5 562V563M746.5 562V563M747.5 562V563M759.5 705V709M767.5 683V690M775.5 648V665M787.5 667V668M788.5 640V667M795.5 597V600M797.5 598V602M799.5 602V603M800.5 591V602M801.5 591V592M804.5 536V548M811.5 542V543M812.5 542V543M813.5 542V543M816.5 474V485M819.5 497V505M824.5 482V483M825.5 482V483M836.5 434V435M837.5 434V435M838.5 398V434M839.5 398V399M843.5 431V437M844.5 423V431M847.5 401V402M863.5 415V422M872.5 384V385M873.5 384V385M874.5 384V385M876.5 426V427M882.5 400V405M883.5 400V401M884.5 400V401M885.5 400V401M886.5 400V401M897.5 413V414M898.5 413V414M899.5 413V414M909.5 479V480M910.5 479V480M911.5 479V480M922.5 487V488M923.5 487V488M924.5 487V488M925.5 455V487M935.5 425V426M936.5 425V426M944.5 416V422M947.5 416V417M948.5 416V417M955.5 400V405M959.5 379V380M960.5 378V380M961.5 378V379M962.5 378V379M973.5 384V388M974.5 384V385M975.5 384V385M979.5 408V411M983.5 395V398M988.5 427V428M999.5 466V467M1000.5 466V467M1004.5 492V500M1007.5 478V480M1010.5 493V494M1011.5 493V494M1018.5 518V524M1022.5 509V510M1023.5 509V510M1029.5 532V533M1031.5 533V537M1034.5 531V532M1035.5 531V532M1036.5 531V532M1046.5 523V524M1047.5 523V524M1048.5 523V524M1053.5 595V600M1057.5 565V588M1058.5 565V566M1059.5 565V566M1061.5 585V586M1063.5 613V625M111.5 61V87M174.5 190V214M593.5 493V532M603.5 450V523M936.5 396V416M988.5 427V519M523.5 430V436M709.5 558V566M1000.5 409V410M172.5 155V156M186.5 282V283M581.5 341V342M672.5 574V575M697.5 641V642M710.5 578V579M724.5 631V632M850.5 378V379M874.5 378V379M963.5 373V374M824.5 459V460M824.5 461V462M787.5 655V656" stroke="#00a000" stroke-width="1" fill="none"/>
<path d="M149.5 239V244M411.5 551V580M444.5 546V590M471.5 522V530M537.5 375V391M565.5 476V516M613.5 476V497M619.5 471V483M658.5 510V522M911.5 379V479M924.5 435V487M397.5 544V580M512.5 378V403M748.5 562V580M887.5 400V449M937.5 416V447M188.5 304V355M91.5 60V71M538.5 396V427M485.5 431V479" stroke="#990000" stroke-width="1" fill="none"/>
</g>
<path d="M250.5 87V88M251.5 88V89M252.5 88V89M253.5 88V89M254.5 89V90M255.5 89V90M256.5 89V90M257.5 90V91M258.5 90V91M259.5 90V91M260.5 91V92M261.5 91V92M262.5 91V92M263.5 92V93M264.5 92V93M265.5 92V93M266.5 93V94M267.5 93V94M268.5 93V94M269.5 94V95M270.5 94V95M271.5 94V95M272.5 95V96M273.5 95V96M274.5 95V96M275.5 96V97M276.5 96V97M277.5 96V97M278.5 97V98M279.5 97V98M280.5 97V98M281.5 98V99M282.5 98V99M283.5 98V99M284.5 99V100M285.5 99V100M286.5 99V100M287.5 100V101M288.5 100V101M289.5 100V101M290.5 101V102M291.5 101V102M292.5 101V102M293.5 102V103M294.5 102V103M295.5 102V103M296.5 103V104M297.5 103V104M298.5 104V105M299.5 104V105M300.5 104V105M301.5 105V106M302.5 105V106M303.5 105V106M304.5 106V107M305.5 106V107M306.5 106V107M307.5 107V108M308.5 107V108M309.5 108V109M310.5 108V109M311.5 108V109M312.5 109V110M313.5 109V110M314.5 109V110M315.5 110V111M316.5 110V111M317.5 110V111M318.5 111V112M319.5 111V112M320.5 112V113M321.5 112V113M322.5 112V113M323.5 113V114M324.5 113V114M325.5 113V114M326.5 114V115M327.5 114V115M328.5 114V115M329.5 115V116M330.5 115V116M331.5 115V116M332.5 116V117M333.5 116V117M334.5 116V117M335.5 117V118M336.5 117V118M337.5 118V119M338.5 118V119M339.5 118V119M340.5 119V120M341.5 119V120M342.5 119V120M343.5 120V121M344.5 120V121M345.5 120V121M346.5 121V122M347.5 121V122M348.5 122V123M349.5 122V123M350.5 122V123M351.5 123V124M352.5 123V124M353.5 124V125M354.5 124V125M355.5 125V126M356.5 125V126M357.5 125V126M358.5 126V127M359.5 126V127M360.5 127V128M361.5 127V128M362.5 128V129M363.5 128V129M364.5 129V130M365.5 129V130M366.5 129V130M367.5 130V131M368.5 130V131M369.5 131V132M370.5 131V132M371.5 132V133M372.5 132V133M373.5 133V134M374.5 134V135M375.5 134V135M376.5 135V136M377.5 135V136M378.5 136V137M379.5 136V137M380.5 137V138M381.5 137V138M382.5 138V139M383.5 139V140M384.5 139V140M385.5 140V141M386.5 140V141M387.5 141V142M388.5 142V143M389.5 142V143M390.5 143V144M391.5 144V145M392.5 144V145M393.5 145V146M394.5 146V147M395.5 147V148M396.5 147V148M397.5 148V149M398.5 149V150M399.5 149V150M400.5 150V151M401.5 151V152M402.5 151V152M403.5 152V153M404.5 153V154M405.5 153V154M406.5 154V155M407.5 155V156M408.5 156V157M409.5 156V157M410.5 157V158M411.5 158V159M412.5 158V159M413.5 159V160M414.5 160V161M415.5 160V161M416.5 161V162M417.5 162V163M418.5 163V164M419.5 163V164M420.5 164V165M421.5 165V166M422.5 165V166M423.5 166V167M424.5 167V168M425.5 167V168M426.5 168V169M427.5 169V170M428.5 170V171M429.5 170V171M430.5 171V172M431.5 172V173M432.5 172V173M433.5 173V174M434.5 174V175M435.5 174V175M436.5 175V176M437.5 176V177M438.5 177V178M439.5 177V178M440.5 178V179M441.5 179V180M442.5 179V180M443.5 180V181M444.5 180V181M445.5 181V182M446.5 182V183M447.5 182V183M448.5 183V184M449.5 184V185M450.5 184V185M451.5 185V186M452.5 186V187M453.5 186V187M454.5 187V188M455.5 188V189M456.5 188V189M457.5 189V190M458.5 190V191M459.5 190V191M460.5 191V192M461.5 192V193M462.5 192V193M463.5 193V194M464.5 193V194M465.5 194V195M466.5 195V196M467.5 195V196M468.5 196V197M469.5 197V198M470.5 197V198M471.5 198V199M472.5 199V200M473.5 199V200M474.5 200V201M475.5 201V202M476.5 201V202M477.5 202V203M478.5 202V203M479.5 203V204M480.5 203V204M481.5 204V205M482.5 204V205M483.5 205V206M484.5 206V207M485.5 206V207M486.5 207V208M487.5 207V208M488.5 208V209M489.5 208V209M490.5 209V210M491.5 209V210M492.5 210V211M493.5 210V211M494.5 210V211M495.5 210V211M496.5 211V212M497.5 211V212M498.5 211V212M499.5 212V213M500.5 212V213M501.5 212V213M502.5 213V214M503.5 213V214M504.5 213V214M505.5 213V214M506.5 214V215M507.5 214V215M508.5 214V215M509.5 215V216M510.5 215V216M511.5 215V216M512.5 216V217M513.5 216V217M514.5 216V217M515.5 217V218M516.5 217V218M517.5 218V219M518.5 218V219M519.5 219V220M520.5 219V220M521.5 219V220M522.5 220V221M523.5 220V221M524.5 221V222M525.5 221V222M526.5 222V223M527.5 222V223M528.5 222V223M529.5 223V224M530.5 223V224M531.5 224V225M532.5 224V225M533.5 225V226M534.5 225V226M535.5 226V227M536.5 226V227M537.5 227V228M538.5 227V228M539.5 228V229M540.5 228V229M541.5 229V230M542.5 229V230M543.5 230V231M544.5 230V231M545.5 231V232M546.5 231V232M547.5 231V232M548.5 232V233M549.5 232V233M550.5 233V234M551.5 233V234M552.5 234V235M553.5 234V235M554.5 235V236M555.5 235V236M556.5 236V237M557.5 236V237M558.5 237V238M559.5 237V238M560.5 238V239M561.5 239V240M562.5 239V240M563.5 240V241M564.5 240V241M565.5 241V242M566.5 241V242M567.5 242V243M568.5 243V244M569.5 243V244M570.5 244V245M571.5 244V245M572.5 245V246M573.5 245V246M574.5 246V247M575.5 247V248M576.5 247V248M577.5 248V249M578.5 248V249M579.5 249V250M580.5 249V250M581.5 250V251M582.5 251V252M583.5 251V252M584.5 252V253M585.5 252V253M586.5 253V254M587.5 254V255M588.5 254V255M589.5 255V256M590.5 255V256M591.5 256V257M592.5 257V258M593.5 257V258M594.5 258V259M595.5 258V259M596.5 259V260M597.5 260V261M598.5 260V261M599.5 261V262M600.5 261V262M601.5 262V263M602.5 263V264M603.5 263V264M604.5 264V265M605.5 264V265M606.5 265V266M607.5 266V267M608.5 266V267M609.5 267V268M610.5 267V268M611.5 268V269M612.5 269V270M613.5 269V270M614.5 270V271M615.5 270V271M616.5 271V272M617.5 271V272M618.5 272V273M619.5 273V274M620.5 273V274M621.5 274V275M622.5 274V275M623.5 275V276M624.5 275V276M625.5 276V277M626.5 276V277M627.5 277V278M628.5 277V278M629.5 278V279M630.5 278V279M631.5 279V280M632.5 280V281M633.5 280V281M634.5 281V282M635.5 281V282M636.5 282V283M637.5 282V283M638.5 283V284M639.5 283V284M640.5 284V285M641.5 284V285M642.5 285V286M643.5 286V287M644.5 286V287M645.5 287V288M646.5 287V288M647.5 288V289M648.5 288V289M649.5 289V290M650.5 289V290M651.5 290V291M652.5 291V292M653.5 291V292M654.5 292V293M655.5 292V293M656.5 293V294M657.5 293V294M658.5 294V295M659.5 294V295M660.5 295V296M661.5 296V297M662.5 296V297M663.5 297V298M664.5 298V299M665.5 299V300M666.5 299V300M667.5 300V301M668.5 301V302M669.5 302V303M670.5 302V303M671.5 303V304M672.5 304V305M673.5 305V306M674.5 305V306M675.5 306V307M676.5 307V308M677.5 308V309M678.5 308V309M679.5 309V310M680.5 310V311M681.5 311V312M682.5 311V312M683.5 312V313M684.5 313V314M685.5 314V315M686.5 314V315M687.5 315V316M688.5 316V317M689.5 317V318M690.5 317V318M691.5 318V319M692.5 319V320M693.5 320V321M694.5 320V321M695.5 321V322M696.5 322V323M697.5 323V324M698.5 324V325M699.5 324V325M700.5 325V326M701.5 326V327M702.5 327V328M703.5 328V329M704.5 329V330M705.5 330V331M706.5 331V332M707.5 332V333M708.5 332V333M709.5 333V334M710.5 334V335M711.5 335V336M712.5 336V337M713.5 337V338M714.5 338V339M715.5 339V340M716.5 339V340M717.5 340V341M718.5 341V342M719.5 342V343M720.5 343V344M721.5 343V344M722.5 344V345M723.5 344V345M724.5 345V346M725.5 346V347M726.5 346V347M727.5 347V348M728.5 348V349M729.5 348V349M730.5 349V350M731.5 350V351M732.5 350V351M733.5 351V352M734.5 352V353M735.5 352V353M736.5 352V353M737.5 353V354M738.5 353V354M739.5 353V354M740.5 354V355M741.5 354V355M742.5 354V355M743.5 355V356M744.5 355V356M745.5 355V356M746.5 355V356M747.5 356V357M748.5 356V357M749.5 357V358M750.5 358V359M751.5 358V359M752.5 359V360M753.5 359V360M754.5 360V361M755.5 361V362M756.5 361V362M757.5 362V363M758.5 363V364M759.5 363V364M760.5 364V365M761.5 365V366M762.5 365V366M763.5 366V367M764.5 366V367M765.5 367V368M766.5 368V369M767.5 368V369M768.5 369V370M769.5 369V370M770.5 369V370M771.5 370V371M772.5 370V371M773.5 371V372M774.5 371V372M775.5 371V372M776.5 372V373M777.5 372V373M778.5 373V374M779.5 373V374M780.5 374V375M781.5 374V375M782.5 374V375M783.5 375V376M784.5 375V376M785.5 376V377M786.5 376V377M787.5 377V378M788.5 377V378M789.5 377V378M790.5 378V379M791.5 378V379M792.5 379V380M793.5 379V380M794.5 379V380M795.5 380V381M796.5 380V381M797.5 381V382M798.5 381V382M799.5 382V383M800.5 382V383M801.5 382V383M802.5 383V384M803.5 383V384M804.5 384V385M805.5 384V385M806.5 385V386M807.5 385V386M808.5 385V386M809.5 386V387M810.5 386V387M811.5 387V388M812.5 387V388M813.5 388V389M814.5 388V389M815.5 388V389M816.5 389V390M817.5 389V390M818.5 389V390M819.5 390V391M820.5 390V391M821.5 390V391M822.5 391V392M823.5 391V392M824.5 391V392M825.5 392V393M826.5 392V393M827.5 392V393M828.5 393V394M829.5 393V394M830.5 394V395M831.5 394V395M832.5 394V395M833.5 394V395M834.5 395V396M835.5 395V396M836.5 395V396M837.5 396V397M838.5 396V397M839.5 396V397M840.5 397V398M841.5 397V398M842.5 397V398M843.5 398V399M844.5 398V399M845.5 398V399M846.5 399V400M847.5 399V400M848.5 399V400M849.5 399V400M850.5 400V401M851.5 400V401M852.5 400V401M853.5 401V402M854.5 401V402M855.5 401V402M856.5 402V403M857.5 402V403M858.5 402V403M859.5 403V404M860.5 403V404M861.5 403V404M862.5 403V404M863.5 404V405M864.5 404V405M865.5 404V405M866.5 405V406M867.5 405V406M868.5 405V406M869.5 405V406M870.5 406V407M871.5 406V407M872.5 406V407M873.5 406V407M874.5 407V408M875.5 407V408M876.5 407V408M877.5 407V408M878.5 408V409M879.5 408V409M880.5 408V409M881.5 408V409M882.5 409V410M883.5 409V410M884.5 409V410M885.5 410V411M886.5 410V411M887.5 410V411M888.5 410V411M889.5 411V412M890.5 411V412M891.5 411V412M892.5 411V412M893.5 412V413M894.5 412V413M895.5 412V413M896.5 412V413M897.5 413V414M898.5 413V414M899.5 413V414M900.5 414V415M901.5 414V415M902.5 414V415M903.5 414V415M904.5 415V416M905.5 415V416M906.5 415V416M907.5 416V417M908.5 416V417M909.5 416V417M910.5 416V417M911.5 417V418M912.5 417V418M913.5 417V418M914.5 418V419M915.5 418V419M916.5 418V419M917.5 419V420M918.5 419V420M919.5 419V420M920.5 420V421M921.5 420V421M922.5 420V421M923.5 421V422M924.5 421V422M925.5 421V422M926.5 422V423M927.5 422V423M928.5 422V423M929.5 423V424M930.5 423V424M931.5 423V424M932.5 424V425M933.5 424V425M934.5 424V425M935.5 424V425M936.5 425V426M937.5 425V426M938.5 425V426M939.5 426V427M940.5 426V427M941.5 426V427M942.5 426V427M943.5 427V428M944.5 427V428M945.5 427V428M946.5 427V428M947.5 428V429M948.5 428V429M949.5 428V429M950.5 429V430M951.5 429V430M952.5 429V430M953.5 429V430M954.5 430V431M955.5 430V431M956.5 430V431M957.5 430V431M958.5 431V432M959.5 431V432M960.5 431V432M961.5 431V432M962.5 432V433M963.5 432V433M964.5 432V433M965.5 432V433M966.5 433V434M967.5 433V434M968.5 433V434M969.5 433V434M970.5 433V434M971.5 434V435M972.5 434V435M973.5 434V435M974.5 434V435M975.5 434V435M976.5 435V436M977.5 435V436M978.5 435V436M979.5 435V436M980.5 435V436M981.5 436V437M982.5 436V437M983.5 436V437M984.5 436V437M985.5 437V438M986.5 437V438M987.5 437V438M988.5 437V438M989.5 438V439M990.5 438V439M991.5 438V439M992.5 439V440M993.5 439V440M994.5 439V440M995.5 439V440M996.5 440V441M997.5 440V441M998.5 440V441M999.5 441V442M1000.5 441V442M1001.5 441V442M1002.5 442V443M1003.5 442V443M1004.5 443V444M1005.5 443V444M1006.5 444V445M1007.5 444V445M1008.5 445V446M1009.5 445V446M1010.5 446V447M1011.5 446V447M1012.5 447V448M1013.5 447V448M1014.5 448V449M1015.5 448V449M1016.5 449V450M1017.5 449V450M1018.5 450V451M1019.5 450V451M1020.5 451V452M1021.5 451V452M1022.5 451V452M1023.5 452V453M1024.5 452V453M1025.5 453V454M1026.5 453V454M1027.5 454V455M1028.5 454V455M1029.5 455V456M1030.5 455V456M1031.5 455V456M1032.5 456V457M1033.5 456V457M1034.5 457V458M1035.5 457V458M1036.5 458V459M1037.5 458V459M1038.5 459V460M1039.5 459V460M1040.5 459V460M1041.5 460V461M1042.5 460V461M1043.5 461V462M1044.5 461V462M1045.5 462V463M1046.5 462V463M1047.5 462V463M1048.5 463V464M1049.5 463V464M1050.5 464V465M1051.5 464V465M1052.5 465V466M1053.5 465V466M1054.5 466V467M1055.5 467V468M1056.5 467V468M1057.5 468V469M1058.5 468V469M1059.5 469V470M1060.5 469V470M1061.5 470V471M1062.5 471V472M1063.5 471V472M1064.5 472V473" stroke="#ff00ff" stroke-width="1" fill="none" shape-rendering="crispEdges"/>
<path d="M250.5 246V247M251.5 247V248M252.5 248V249M253.5 249V250M254.5 250V251M255.5 250V251M256.5 251V252M257.5 252V253M258.5 253V254M259.5 254V255M260.5 255V256M261.5 256V257M262.5 257V258M263.5 257V258M264.5 258V259M265.5 259V261M266.5 261V262M267.5 262V263M268.5 263V264M269.5 264V265M270.5 265V266M271.5 266V267M272.5 267V268M273.5 268V269M274.5 269V270M275.5 270V271M276.5 271V273M277.5 273V274M278.5 274V275M279.5 275V276M280.5 276V277M281.5 277V278M282.5 278V280M283.5 280V281M284.5 281V282M285.5 282V284M286.5 284V285M287.5 285V286M288.5 286V287M289.5 287V289M290.5 289V290M291.5 289V290M292.5 290V291M293.5 291V292M294.5 292V293M295.5 293V294M296.5 293V294M297.5 294V295M298.5 295V296M299.5 296V297M300.5 297V298M301.5 298V299M302.5 299V300M303.5 300V302M304.5 302V303M305.5 303V304M306.5 304V305M307.5 305V307M308.5 307V308M309.5 308V309M310.5 309V311M311.5 311V312M312.5 312V313M313.5 313V314M314.5 314V316M315.5 316V317M316.5 317V318M317.5 318V319M318.5 319V321M319.5 321V322M320.5 322V323M321.5 323V325M322.5 325V326M323.5 326V327M324.5 327V328M325.5 328V329M326.5 329V330M327.5 330V331M328.5 331V332M329.5 332V333M330.5 333V334M331.5 333V334M332.5 334V335M333.5 335V336M334.5 335V336M335.5 336V337M336.5 336V337M337.5 336V337M338.5 336V337M339.5 336V337M340.5 336V337M341.5 337V338M342.5 337V338M343.5 338V339M344.5 339V340M345.5 339V340M346.5 340V341M347.5 340V341M348.5 341V342M349.5 341V342M350.5 341V342M351.5 341V342M352.5 341V342M353.5 341V342M354.5 341V342M355.5 341V342M356.5 342V343M357.5 342V343M358.5 343V344M359.5 343V344M360.5 344V345M361.5 344V345M362.5 345V346M363.5 346V347M364.5 347V348M365.5 348V349M366.5 349V351M367.5 351V352M368.5 352V353M369.5 353V355M370.5 355V356M371.5 356V357M372.5 357V358M373.5 358V359M374.5 359V360M375.5 360V361M376.5 361V362M377.5 362V363M378.5 363V364M379.5 364V365M380.5 365V366M381.5 366V367M382.5 367V368M383.5 368V369M384.5 368V369M385.5 369V370M386.5 370V371M387.5 371V372M388.5 372V373M389.5 373V374M390.5 374V375M391.5 374V375M392.5 375V376M393.5 376V377M394.5 377V378M395.5 378V379M396.5 379V380M397.5 380V381M398.5 381V383M399.5 383V384M400.5 384V386M401.5 386V387M402.5 387V389M403.5 389V390M404.5 390V391M405.5 391V393M406.5 393V394M407.5 394V396M408.5 396V397M409.5 397V399M410.5 399V400M411.5 400V401M412.5 401V403M413.5 403V404M414.5 404V406M415.5 406V407M416.5 407V409M417.5 409V410M418.5 410V411M419.5 411V413M420.5 413V414M421.5 414V416M422.5 416V417M423.5 417V418M424.5 418V420M425.5 420V421M426.5 421V422M427.5 422V424M428.5 424V425M429.5 425V426M430.5 426V428M431.5 428V429M432.5 429V431M433.5 431V432M434.5 432V434M435.5 434V435M436.5 435V437M437.5 437V438M438.5 438V440M439.5 440V441M440.5 441V443M441.5 443V444M442.5 444V446M443.5 446V447M444.5 447V449M445.5 449V450M446.5 450V452M447.5 452V453M448.5 453V455M449.5 455V456M450.5 456V458M451.5 458V459M452.5 459V461M453.5 461V462M454.5 462V464M455.5 464V465M456.5 465V467M457.5 467V468M458.5 468V470M459.5 470V471M460.5 471V473M461.5 473V474M462.5 474V476M463.5 476V477M464.5 477V479M465.5 479V480M466.5 480V482M467.5 482V483M468.5 483V485M469.5 485V486M470.5 486V487M471.5 487V489M472.5 489V490M473.5 490V492M474.5 492V493M475.5 493V494M476.5 494V496M477.5 496V497M478.5 497V499M479.5 499V500M480.5 500V501M481.5 501V503M482.5 503V504M483.5 504V505M484.5 505V507M485.5 507V508M486.5 508V509M487.5 509V511M488.5 511V512M489.5 512V513M490.5 513V514M491.5 513V514M492.5 513V514M493.5 514V515M494.5 514V515M495.5 514V515M496.5 515V516M497.5 515V516M498.5 515V516M499.5 516V517M500.5 516V517M501.5 516V517M502.5 516V517M503.5 517V518M504.5 517V518M505.5 517V518M506.5 517V518M507.5 517V518M508.5 517V518M509.5 517V518M510.5 517V518M511.5 517V518M512.5 517V518M513.5 518V519M514.5 518V519M515.5 518V519M516.5 518V519M517.5 518V519M518.5 519V520M519.5 519V520M520.5 519V520M521.5 519V520M522.5 520V521M523.5 521V522M524.5 521V522M525.5 522V523M526.5 522V523M527.5 523V524M528.5 523V524M529.5 524V525M530.5 524V525M531.5 525V526M532.5 525V526M533.5 526V527M534.5 526V527M535.5 526V527M536.5 527V528M537.5 527V528M538.5 528V529M539.5 528V529M540.5 528V529M541.5 529V530M542.5 529V530M543.5 529V530M544.5 530V531M545.5 530V531M546.5 530V531M547.5 531V532M548.5 531V532M549.5 531V532M550.5 532V533M551.5 532V533M552.5 532V533M553.5 533V534M554.5 533V534M555.5 533V534M556.5 534V535M557.5 534V535M558.5 535V536M559.5 535V536M560.5 536V537M561.5 536V537M562.5 537V538M563.5 537V538M564.5 537V538M565.5 537V538M566.5 538V539M567.5 538V539M568.5 538V539M569.5 538V539M570.5 539V540M571.5 539V540M572.5 539V540M573.5 539V540M574.5 539V540M575.5 540V541M576.5 540V541M577.5 540V541M578.5 540V541M579.5 540V541M580.5 540V541M581.5 540V541M582.5 540V541M583.5 540V541M584.5 540V541M585.5 540V541M586.5 540V541M587.5 540V541M588.5 540V541M589.5 539V540M590.5 539V540M591.5 539V540M592.5 539V540M593.5 539V540M594.5 539V540M595.5 538V539M596.5 538V539M597.5 538V539M598.5 537V538M599.5 537V538M600.5 536V537M601.5 536V537M602.5 535V536M603.5 535V536M604.5 535V536M605.5 535V536M606.5 535V536M607.5 535V536M608.5 535V536M609.5 535V536M610.5 535V536M611.5 534V535M612.5 534V535M613.5 533V534M614.5 533V534M615.5 532V533M616.5 531V532M617.5 531V532M618.5 530V531M619.5 530V531M620.5 529V530M621.5 528V529M622.5 527V528M623.5 527V528M624.5 526V527M625.5 525V526M626.5 525V526M627.5 524V525M628.5 523V524M629.5 523V524M630.5 522V523M631.5 521V522M632.5 521V522M633.5 520V521M634.5 519V520M635.5 519V520M636.5 518V519M637.5 517V518M638.5 517V518M639.5 516V517M640.5 515V516M641.5 514V515M642.5 514V515M643.5 513V514M644.5 512V513M645.5 511V512M646.5 511V512M647.5 510V511M648.5 510V511M649.5 510V511M650.5 510V511M651.5 510V511M652.5 510V511M653.5 510V511M654.5 510V511M655.5 510V511M656.5 510V511M657.5 510V511M658.5 510V511M659.5 510V511M660.5 510V511M661.5 510V511M662.5 510V511M663.5 510V511M664.5 510V511M665.5 511V512M666.5 511V512M667.5 511V512M668.5 511V512M669.5 511V512M670.5 511V512M671.5 512V513M672.5 512V513M673.5 512V513M674.5 512V513M675.5 512V513M676.5 512V513M677.5 513V514M678.5 513V514M679.5 513V514M680.5 513V514M681.5 513V514M682.5 513V514M683.5 514V515M684.5 514V515M685.5 514V515M686.5 514V515M687.5 514V515M688.5 514V515M689.5 515V516M690.5 515V516M691.5 515V516M692.5 516V517M693.5 517V519M694.5 519V520M695.5 520V521M696.5 521V522M697.5 522V524M698.5 524V525M699.5 525V526M700.5 526V527M701.5 527V528M702.5 528V529M703.5 529V530M704.5 530V531M705.5 531V532M706.5 532V533M707.5 533V534M708.5 534V535M709.5 535V536M710.5 536V537M711.5 537V538M712.5 538V540M713.5 540V541M714.5 541V542M715.5 542V543M716.5 543V544M717.5 544V545M718.5 545V546M719.5 546V548M720.5 548V549M721.5 549V550M722.5 550V551M723.5 551V552M724.5 552V553M725.5 552V553M726.5 553V554M727.5 554V555M728.5 554V555M729.5 555V556M730.5 556V557M731.5 557V558M732.5 558V559M733.5 559V560M734.5 560V561M735.5 561V562M736.5 562V563M737.5 563V564M738.5 564V565M739.5 565V566M740.5 566V567M741.5 567V568M742.5 568V569M743.5 568V569M744.5 569V570M745.5 570V571M746.5 570V571M747.5 571V572M748.5 572V573M749.5 573V574M750.5 574V575M751.5 575V576M752.5 576V577M753.5 577V579M754.5 579V580M755.5 580V581M756.5 581V583M757.5 583V584M758.5 584V585M759.5 585V587M760.5 587V588M761.5 588V590M762.5 590V591M763.5 591V592M764.5 592V594M765.5 594V595M766.5 595V596M767.5 595V596M768.5 596V597M769.5 597V598M770.5 598V599M771.5 599V600M772.5 599V600M773.5 600V601M774.5 601V602M775.5 602V603M776.5 603V604M777.5 603V604M778.5 604V605M779.5 605V606M780.5 606V607M781.5 606V607M782.5 607V608M783.5 608V609M784.5 609V610M785.5 609V610M786.5 610V611M787.5 611V612M788.5 612V613M789.5 612V613M790.5 613V614M791.5 614V615M792.5 615V616M793.5 615V616M794.5 616V617M795.5 616V617M796.5 616V617M797.5 616V617M798.5 616V617M799.5 617V618M800.5 617V618M801.5 617V618M802.5 617V618M803.5 617V618M804.5 618V619M805.5 618V619M806.5 618V619M807.5 618V619M808.5 618V619M809.5 618V619M810.5 618V619M811.5 619V620M812.5 619V620M813.5 619V620M814.5 619V620M815.5 620V621M816.5 620V621M817.5 620V621M818.5 621V622M819.5 621V622M820.5 621V622M821.5 621V622M822.5 621V622M823.5 621V622M824.5 621V622M825.5 622V623M826.5 622V623M827.5 622V623M828.5 623V624M829.5 623V624M830.5 623V624M831.5 623V624M832.5 623V624M833.5 624V625M834.5 624V625M835.5 624V625M836.5 624V625M837.5 624V625M838.5 624V625M839.5 624V625M840.5 624V625M841.5 624V625M842.5 624V625M843.5 624V625M844.5 624V625M845.5 623V624M846.5 622V623M847.5 621V622M848.5 620V621M849.5 620V621M850.5 619V620M851.5 619V620M852.5 619V620M853.5 618V619M854.5 618V619M855.5 618V619M856.5 617V618M857.5 617V618M858.5 616V617M859.5 616V617M860.5 615V616M861.5 615V616M862.5 614V615M863.5 614V615M864.5 613V614M865.5 612V613M866.5 611V612M867.5 610V611M868.5 610V611M869.5 609V610M870.5 608V609M871.5 607V608M872.5 606V607M873.5 605V606M874.5 604V605M875.5 602V604M876.5 601V602M877.5 600V601M878.5 599V600M879.5 598V599M880.5 597V598M881.5 596V597M882.5 595V596M883.5 594V595M884.5 593V594M885.5 592V593M886.5 591V592M887.5 590V591M888.5 589V590M889.5 589V590M890.5 589V590M891.5 588V589M892.5 587V588M893.5 586V587M894.5 585V586M895.5 583V585M896.5 582V583M897.5 581V582M898.5 579V581M899.5 578V579M900.5 577V578M901.5 577V578M902.5 576V577M903.5 575V576M904.5 575V576M905.5 574V575M906.5 574V575M907.5 573V574M908.5 573V574M909.5 572V573M910.5 571V572M911.5 571V572M912.5 570V571M913.5 569V570M914.5 569V570M915.5 568V569M916.5 567V568M917.5 566V567M918.5 566V567M919.5 565V566M920.5 564V565M921.5 564V565M922.5 563V564M923.5 562V563M924.5 562V563M925.5 561V562M926.5 561V562M927.5 560V561M928.5 560V561M929.5 559V560M930.5 558V559M931.5 558V559M932.5 557V558M933.5 556V557M934.5 555V556M935.5 554V555M936.5 553V554M937.5 552V553M938.5 552V553M939.5 551V552M940.5 550V551M941.5 550V551M942.5 549V550M943.5 548V549M944.5 548V549M945.5 547V548M946.5 546V547M947.5 546V547M948.5 545V546M949.5 543V545M950.5 542V543M951.5 541V542M952.5 540V541M953.5 539V540M954.5 537V539M955.5 536V537M956.5 534V536M957.5 532V534M958.5 530V532M959.5 529V530M960.5 527V529M961.5 525V527M962.5 523V525M963.5 521V523M964.5 520V521M965.5 518V520M966.5 516V518M967.5 515V516M968.5 513V515M969.5 512V513M970.5 510V512M971.5 508V510M972.5 507V508M973.5 505V507M974.5 504V505M975.5 502V504M976.5 501V502M977.5 500V501M978.5 498V500M979.5 497V498M980.5 496V497M981.5 495V496M982.5 494V495M983.5 492V494M984.5 491V492M985.5 490V491M986.5 489V490M987.5 487V489M988.5 486V487M989.5 485V486M990.5 485V486M991.5 484V485M992.5 484V485M993.5 483V484M994.5 483V484M995.5 482V483M996.5 481V482M997.5 481V482M998.5 480V481M999.5 480V481M1000.5 479V480M1001.5 479V480M1002.5 478V479M1003.5 478V479M1004.5 478V479M1005.5 478V479M1006.5 477V478M1007.5 477V478M1008.5 477V478M1009.5 477V478M1010.5 476V477M1011.5 476V477M1012.5 476V477M1013.5 476V477M1014.5 476V477M1015.5 476V477M1016.5 477V478M1017.5 477V478M1018.5 477V478M1019.5 477V478M1020.5 477V478M1021.5 477V478M1022.5 477V478M1023.5 478V479M1024.5 478V479M1025.5 478V479M1026.5 478V479M1027.5 479V480M1028.5 479V480M1029.5 479V480M1030.5 479V480M1031.5 480V481M1032.5 480V481M1033.5 480V481M1034.5 481V482M1035.5 481V482M1036.5 481V482M1037.5 481V482M1038.5 482V483M1039.5 482V483M1040.5 483V484M1041.5 483V484M1042.5 483V484M1043.5 484V485M1044.5 484V485M1045.5 485V486M1046.5 485V486M1047.5 485V486M1048.5 486V487M1049.5 487V488M1050.5 488V489M1051.5 489V490M1052.5 490V491M1053.5 491V492M1054.5 492V493M1055.5 493V494M1056.5 494V495M1057.5 495V496M1058.5 496V497M1059.5 496V497M1060.5 497V498M1061.5 498V499M1062.5 498V499M1063.5 499V500M1064.5 500V501" stroke="#2020ff" stroke-width="1" fill="none" shape-rendering="crispEdges"/>
<polyline points="327.3,241.0 341.1,284.6 342.2,307.5 441.5,582.5" stroke="#ff0000" stroke-width="1.0" fill="none"/>
<polyline points="327.2,354.5 341.4,400.4 342.7,412.7 441.7,691.0" stroke="#000000" stroke-width="1.0" fill="none"/>
<polyline points="511.4,342.3 610.0,493.0" stroke="#ff0000" stroke-width="1.0" fill="none"/>
<polyline points="511.4,408.8 610.4,557.2" stroke="#000000" stroke-width="1.0" fill="none"/>
<polyline points="785.3,556.0 884.5,293.0" stroke="#ff0000" stroke-width="1.0" fill="none"/>
<polyline points="785.5,652.4 884.3,395.0" stroke="#000000" stroke-width="1.0" fill="none"/>
<g shape-rendering="crispEdges" fill="#404040">
<rect x="1541" y="0" width="1" height="885"/>
<rect x="0" y="885" width="1590" height="1"/>
<rect x="2" y="886" width="1" height="8"/>
<rect x="26" y="886" width="1" height="8"/>
<rect x="47" y="886" width="1" height="8"/>
<rect x="69" y="886" width="1" height="8"/>
<rect x="90" y="886" width="1" height="8"/>
<rect x="112" y="886" width="1" height="8"/>
<rect x="134" y="886" width="1" height="8"/>
<rect x="161" y="886" width="1" height="8"/>
<rect x="187" y="886" width="1" height="8"/>
<rect x="211" y="886" width="1" height="8"/>
<rect x="236" y="886" width="1" height="8"/>
<rect x="266" y="886" width="1" height="8"/>
<rect x="288" y="886" width="1" height="8"/>
<rect x="314" y="886" width="1" height="8"/>
<rect x="339" y="886" width="1" height="8"/>
<rect x="363" y="886" width="1" height="8"/>
<rect x="385" y="886" width="1" height="8"/>
<rect x="411" y="886" width="1" height="8"/>
<rect x="434" y="886" width="1" height="8"/>
<rect x="470" y="886" width="1" height="8"/>
<rect x="498" y="886" width="1" height="8"/>
<rect x="525" y="886" width="1" height="8"/>
<rect x="552" y="886" width="1" height="8"/>
<rect x="580" y="886" width="1" height="8"/>
<rect x="607" y="886" width="1" height="8"/>
<rect x="631" y="886" width="1" height="8"/>
<rect x="657" y="886" width="1" height="8"/>
<rect x="684" y="886" width="1" height="8"/>
<rect x="711" y="886" width="1" height="8"/>
<rect x="737" y="886" width="1" height="8"/>
<rect x="762" y="886" width="1" height="8"/>
<rect x="787" y="886" width="1" height="8"/>
<rect x="813" y="886" width="1" height="8"/>
<rect x="837" y="886" width="1" height="8"/>
<rect x="862" y="886" width="1" height="8"/>
<rect x="887" y="886" width="1" height="8"/>
<rect x="911" y="886" width="1" height="8"/>
<rect x="936" y="886" width="1" height="8"/>
<rect x="963" y="886" width="1" height="8"/>
<rect x="988" y="886" width="1" height="8"/>
<rect x="1012" y="886" width="1" height="8"/>
<rect x="1036" y="886" width="1" height="8"/>
<rect x="1060" y="886" width="1" height="8"/>
<rect x="1094" y="886" width="1" height="8"/>
<rect x="1128" y="886" width="1" height="8"/>
<rect x="1162" y="886" width="1" height="8"/>
<rect x="1196" y="886" width="1" height="8"/>
<rect x="1230" y="886" width="1" height="8"/>
<rect x="1264" y="886" width="1" height="8"/>
<rect x="1298" y="886" width="1" height="8"/>
<rect x="1332" y="886" width="1" height="8"/>
<rect x="1383" y="886" width="1" height="8"/>
<rect x="1417" y="886" width="1" height="8"/>
<rect x="1451" y="886" width="1" height="8"/>
<rect x="1485" y="886" width="1" height="8"/>
<rect x="1519" y="886" width="1" height="8"/>
<rect x="1542" y="60" width="4" height="1"/>
<rect x="1542" y="166" width="4" height="1"/>
<rect x="1542" y="272" width="4" height="1"/>
<rect x="1542" y="378" width="4" height="1"/>
<rect x="1542" y="484" width="4" height="1"/>
<rect x="1542" y="590" width="4" height="1"/>
<rect x="1542" y="696" width="4" height="1"/>
<rect x="1542" y="802" width="4" height="1"/>
<rect x="1590" y="0" width="1" height="909" fill="#e3e3e3"/>
</g>
</svg>
<div class="t xl" style="left:26.2px">6/7</div>
<div class="t xl" style="left:69.2px">6/13</div>
<div class="t xl" style="left:112.2px">6/19</div>
<div class="t xl" style="left:161.2px">6/25</div>
<div class="t xl" style="left:211.2px">Jul</div>
<div class="t xl" style="left:266.2px">7/9</div>
<div class="t xl" style="left:314.2px">7/15</div>
<div class="t xl" style="left:363.2px">7/19</div>
<div class="t xl" style="left:411.2px">7/25</div>
<div class="t xl" style="left:470.2px">Aug</div>
<div class="t xl" style="left:498.2px">8/5</div>
<div class="t xl" style="left:525.2px">8/7</div>
<div class="t xl" style="left:552.2px">8/9</div>
<div class="t xl" style="left:607.2px">8/15</div>
<div class="t xl" style="left:657.2px">8/21</div>
<div class="t xl" style="left:711.2px">8/27</div>
<div class="t xl" style="left:762.2px">Sep</div>
<div class="t xl" style="left:813.2px">9/9</div>
<div class="t xl" style="left:862.2px">9/13</div>
<div class="t xl" style="left:911.2px">9/19</div>
<div class="t xl" style="left:963.2px">9/25</div>
<div class="t xl" style="left:1012.2px">Oct</div>
<div class="t xl" style="left:1060.2px">10/7</div>
<div class="t xl" style="left:1094.2px">10/9</div>
<div class="t xl" style="left:1162.2px">10/15</div>
<div class="t xl" style="left:1230.2px">10/21</div>
<div class="t xl" style="left:1298.2px">10/25</div>
<div class="t xl" style="left:1383.2px">Nov</div>
<div class="t xl" style="left:1417.2px">11/5</div>
<div class="t xl" style="left:1451.2px">11/7</div>
<div class="t xl" style="left:1519.2px">11/13</div>
<div class="t yl" style="top:52.5px">23.00</div>
<div class="t yl" style="top:158.5px">22.00</div>
<div class="t yl" style="top:264.5px">21.00</div>
<div class="t yl" style="top:370.5px">20.00</div>
<div class="t yl" style="top:476.5px">19.00</div>
<div class="t yl" style="top:582.5px">18.00</div>
<div class="t yl" style="top:688.5px">17.00</div>
<div class="t yl" style="top:794.5px">16.00</div>
<svg width="1592" height="909" viewBox="0 0 1592 909" style="position:absolute;left:0;top:0">
<polygon points="1540,293.5 1545.3,284 1589,284 1589,303 1545.3,303" fill="#ff1a1a"/>
<polygon points="1540,394.5 1545.3,385 1589,385 1589,404 1545.3,404" fill="#1a1a1a"/>
<polygon points="1540,471.5 1545.3,462 1589,462 1589,481 1545.3,481" fill="#ff1aff"/>
<polygon points="1540,499.5 1545.3,490 1589,490 1589,509 1545.3,509" fill="#1a1aff"/>
<polygon points="1540,613.5 1545.3,604 1589,604 1589,623 1545.3,623" fill="#1e8c55"/>
</svg>
<div class="t mk" style="top:285.5px">20.80</div>
<div class="t mk" style="top:386.5px">19.85</div>
<div class="t mk" style="top:463.5px">19.12</div>
<div class="t mk" style="top:491.5px">18.86</div>
<div class="t mk" style="top:605.5px">17.78</div>
<div class="an" style="left:400px;top:680px">Left</div>
<div class="an" style="left:1025px;top:691px">Right</div>
<div class="an" style="left:720px;top:846px">Head</div>
<div class="an ew" style="left:750.5px;top:748.5px">C</div>
<div class="an ew" style="left:750px;top:772.5px;font-weight:normal">5</div>
<div class="an ew" style="left:738px;top:797px;word-spacing:0.8px">( C )</div>
</body></html>
